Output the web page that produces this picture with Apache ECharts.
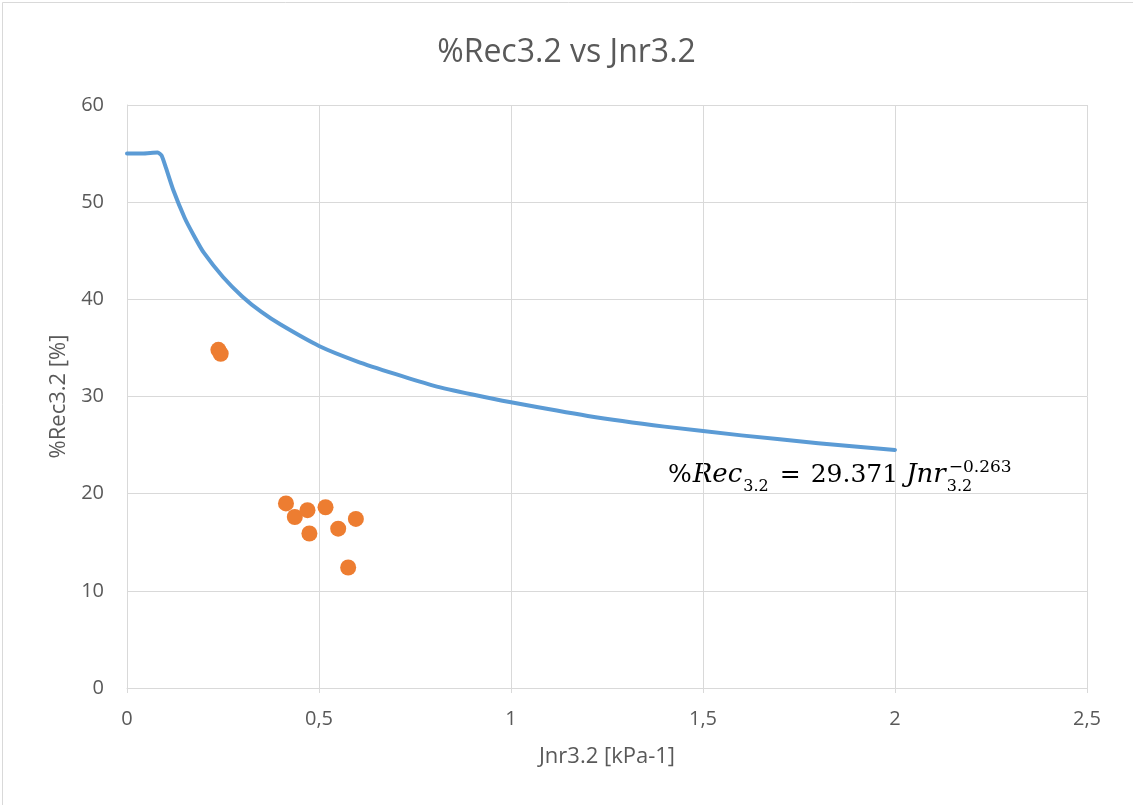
<!DOCTYPE html>
<html>
<head>
<meta charset="utf-8">
<title>%Rec3.2 vs Jnr3.2</title>
<script src="https://cdn.jsdelivr.net/npm/echarts@6/dist/echarts.min.js"></script>
<style>
	html, body { margin: 0; padding: 0; background: #fff; }
	#chart { width: 1133px; height: 805px; }
</style>
</head>
<body>
<div id="chart"></div>
<script>
// measured points (Jnr3.2 in kPa-1, %Rec3.2 in %)
var scatterX = [0.238, 0.244, 0.414, 0.437, 0.470, 0.517, 0.475, 0.550, 0.596, 0.576];
var scatterY = [34.8, 34.4, 19.0, 17.6, 18.3, 18.6, 15.9, 16.4, 17.4, 12.4];

// limit curve
var curveX = [0, 0.04, 0.08, 0.09, 0.1, 0.12, 0.15, 0.175, 0.2, 0.25, 0.3, 0.35, 0.4, 0.5, 0.6, 0.7, 0.8, 0.9, 1.0, 1.2, 1.4, 1.6, 1.8, 2.0];
var curveY = [55, 55, 55.1, 54.8, 53.7, 51.3, 48.4, 46.5, 44.8, 42.3, 40.3, 38.7, 37.4, 35.2, 33.6, 32.3, 31.1, 30.2, 29.4, 28.0, 26.9, 26.0, 25.2, 24.5];

var xTicks = [0, 0.5, 1, 1.5, 2, 2.5];
var yTicks = [0, 10, 20, 30, 40, 50, 60];

var textColor = '#595959';
var gridColor = '#d9d9d9';
var fontName = '"Open Sans", "Noto Sans", sans-serif';
var mathFont = '"DejaVu Serif", "Liberation Serif", serif';

function pairs(xs, ys) {
	var out = [];
	for (var i = 0; i < xs.length; i++) {
		out.push([xs[i], ys[i]]);
	}
	return out;
}

var chart = echarts.init(document.getElementById('chart'));

/* ecuacion: piezas una detras de otra, con el ancho medido */
var ctx = document.createElement('canvas').getContext('2d');
function mathFontStr(size, italic) {
	return (italic ? 'italic ' : '') + size + 'px ' + mathFont;
}
function buildEquation(x0, base) {
	// [texto, tamaño, cursiva, desplazamiento vertical, avance extra]
	var parts = [
		['%', 25, false, 0, 1],
		['Rec', 26, true, 0, 1],
		['3.2', 16, false, 12, 11],
		['=', 25, false, 0, 10],
		['29.371', 25, false, 0, 8],
		['Jnr', 26, true, 0, 1]
	];
	var out = [];
	var x = x0;
	for (var i = 0; i < parts.length; i++) {
		var p = parts[i];
		out.push({
			type: 'text',
			x: x,
			y: base + p[3],
			style: { text: p[0], font: mathFontStr(p[1], p[2]), fill: '#000', verticalAlign: 'middle' }
		});
		ctx.font = mathFontStr(p[1], p[2]);
		x += ctx.measureText(p[0]).width + p[4];
	}
	// sub y sup apilados tras "Jnr"
	out.push({
		type: 'text', x: x, y: base + 12,
		style: { text: '3.2', font: mathFontStr(16, false), fill: '#000', verticalAlign: 'middle' }
	});
	out.push({
		type: 'text', x: x + 2, y: base - 7,
		style: { text: '\u22120.263', font: mathFontStr(17, false), fill: '#000', verticalAlign: 'middle' }
	});
	return out;
}

var option = {
	backgroundColor: '#fff',
	animation: false,
	title: {
		text: '%Rec3.2 vs Jnr3.2',
		left: 'center',
		top: 32,
		textStyle: {
			color: textColor,
			fontSize: 32,
			fontWeight: 'normal',
			fontFamily: fontName
		}
	},
	grid: {
		left: 127,
		right: 46,
		top: 105,
		bottom: 117
	},
	xAxis: {
		type: 'value',
		min: xTicks[0],
		max: xTicks[xTicks.length - 1],
		interval: 0.5,
		name: 'Jnr3.2 [kPa-1]',
		nameLocation: 'middle',
		nameGap: 58,
		nameTextStyle: { color: textColor, fontSize: 22, fontFamily: fontName },
		axisLine: { show: true, lineStyle: { color: gridColor, width: 1 } },
		axisTick: { show: true, length: 5, lineStyle: { color: gridColor } },
		axisLabel: {
			color: textColor,
			fontSize: 20,
			fontFamily: fontName,
			margin: 21,
			formatter: function (v) {
				return String(v).replace('.', ',');
			}
		},
		splitLine: { show: true, lineStyle: { color: gridColor, width: 1 } }
	},
	yAxis: {
		type: 'value',
		min: yTicks[0],
		max: yTicks[yTicks.length - 1],
		interval: 10,
		name: '%Rec3.2 [%]',
		nameLocation: 'middle',
		nameGap: 53,
		nameTextStyle: { color: textColor, fontSize: 22, fontFamily: fontName },
		axisLine: { show: true, lineStyle: { color: gridColor, width: 1 } },
		axisTick: { show: false },
		axisLabel: {
			color: textColor,
			fontSize: 20,
			fontFamily: fontName,
			margin: 23
		},
		splitLine: { show: true, lineStyle: { color: gridColor, width: 1 } }
	},
	series: [{
		name: 'ensayos',
		type: 'scatter',
		data: pairs(scatterX, scatterY),
		symbol: 'circle',
		symbolSize: 16,
		itemStyle: { color: '#ed7d31', opacity: 1 },
		z: 3
	}, {
		name: 'curva',
		type: 'line',
		data: pairs(curveX, curveY),
		showSymbol: false,
		smooth: 0.2,
		lineStyle: { color: '#5b9bd5', width: 4, cap: 'round', join: 'round' },
		z: 2
	}],
	graphic: [{
		type: 'rect',
		left: 0,
		top: 0,
		shape: { width: 1132, height: 804 },
		style: { fill: 'none', stroke: gridColor, lineWidth: 1 },
		silent: true
	}, {
		type: 'group',
		silent: true,
		children: buildEquation(668, 475)
	}]
};

chart.setOption(option);
</script>
</body>
</html>
